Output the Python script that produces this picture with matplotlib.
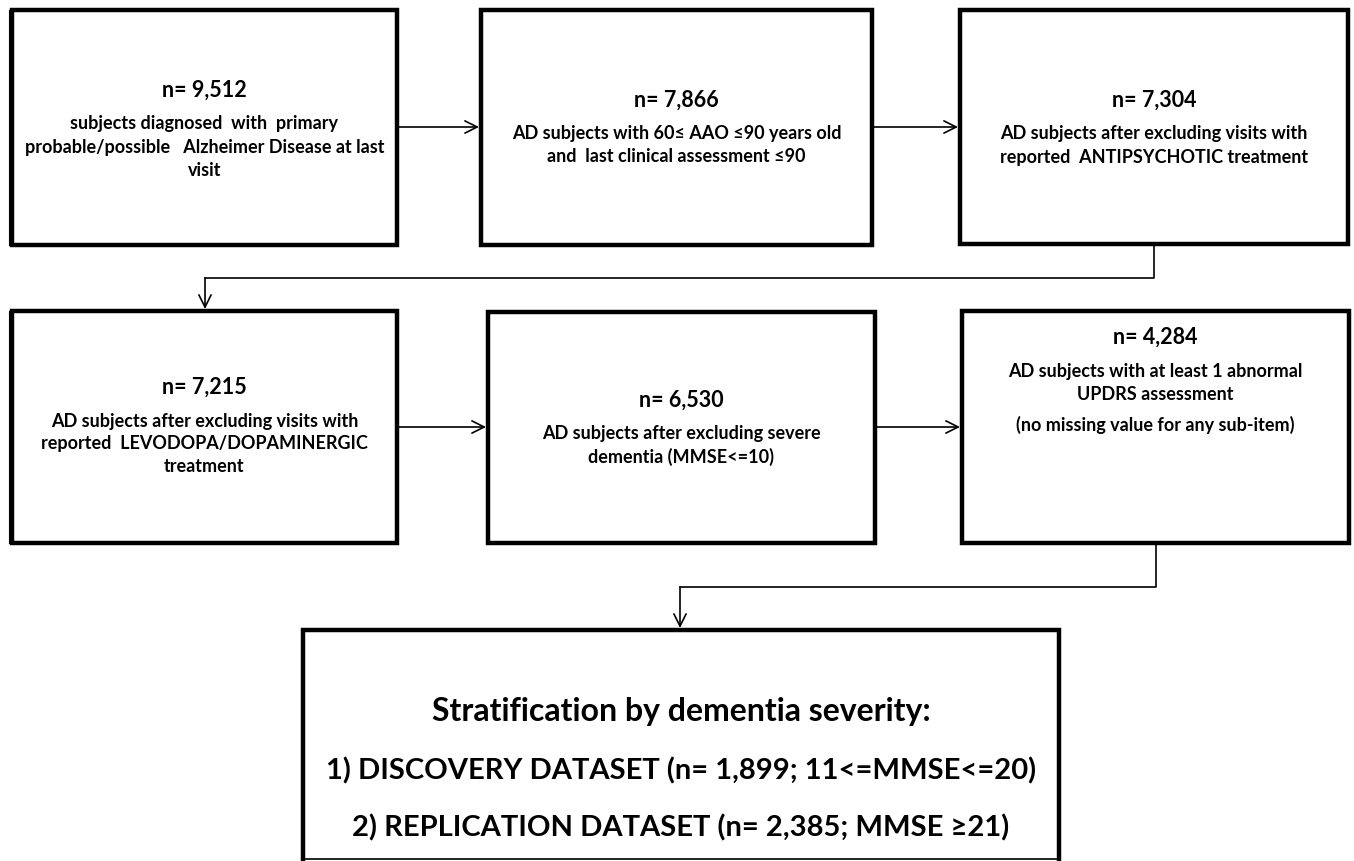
import matplotlib.pyplot as plt
from matplotlib.patches import Rectangle

plt.rcParams['font.family'] = ['Lato', 'DejaVu Sans']

# box rectangles in pixel coords: left, top, right, bottom
boxes = [
    (12, 10, 397, 245),
    (481, 10, 872, 245),
    (960, 10, 1348, 244),
    (12, 311, 397, 543),
    (488, 312, 875, 543),
    (962, 311, 1349, 543),
]
counts = ['n= 9,512', 'n= 7,866', 'n= 7,304', 'n= 7,215', 'n= 6,530', 'n= 4,284']
descs = [
    ['subjects diagnosed  with  primary', 'probable/possible   Alzheimer Disease at last', 'visit'],
    ['AD subjects with 60\u2264 AAO \u226490 years old', 'and  last clinical assessment \u226490'],
    ['AD subjects after excluding visits with', 'reported  ANTIPSYCHOTIC treatment'],
    ['AD subjects after excluding visits with', 'reported  LEVODOPA/DOPAMINERGIC', 'treatment'],
    ['AD subjects after excluding severe', 'dementia (MMSE<=10)'],
    ['AD subjects with at least 1 abnormal', 'UPDRS assessment', '', '(no missing value for any sub-item)'],
]
count_y = [90, 100, 100, 387, 400, 337]

final_box = (303, 630, 1059, 859)
final_lines = ['Stratification by dementia severity:',
               '1) DISCOVERY DATASET (n= 1,899; 11<=MMSE<=20)',
               '2) REPLICATION DATASET (n= 2,385; MMSE \u226521)']
final_y = [711, 771, 828]
final_size = [23, 21, 21]

fig = plt.figure(figsize=(13.54, 8.61), dpi=100)
ax = fig.add_axes([0, 0, 1, 1])
ax.set_xlim(0, 1354)
ax.set_ylim(861, 0)
ax.axis('off')


def draw_box(l, t, r, b, lw=3.2):
    ax.add_patch(Rectangle((l, t), r - l, b - t, fill=False, ec='black',
                           lw=lw, joinstyle='miter'))


for (l, t, r, b), c, d, cy in zip(boxes, counts, descs, count_y):
    draw_box(l, t, r, b)
    cx = (l + r) / 2
    ax.text(cx, cy, c, ha='center', va='center', fontsize=15.5, fontweight='bold')
    y = cy + 34
    for line in d:
        if line == '':
            y += 8
            continue
        ax.text(cx, y, line, ha='center', va='center', fontsize=13, fontweight='bold')
        y += 23

# double thin line on left of first column boxes
for (l, t, r, b) in (boxes[0], boxes[3]):
    ax.plot([l - 3, l - 3], [t, b], color='black', lw=0.8)

# final box
l, t, r, b = final_box
ax.plot([l, l, r, r], [b, t, t, b], color='black', lw=3.2, solid_joinstyle='miter')
ax.plot([l, r], [b, b], color='black', lw=1.2)
for line, y, fs in zip(final_lines, final_y, final_size):
    ax.text((l + r) / 2, y, line, ha='center', va='center', fontsize=fs, fontweight='bold')

arrow = dict(arrowstyle='->', color='black', lw=1.2, mutation_scale=22, shrinkA=0, shrinkB=0)


def harrow(x0, x1, y):
    ax.annotate('', xy=(x1, y), xytext=(x0, y), arrowprops=arrow)


harrow(397, 479, 127)
harrow(872, 958, 127)
harrow(397, 486, 427)
harrow(875, 960, 427)

# elbow connectors
ax.plot([1154, 1154, 205], [244, 278, 278], color='black', lw=1.2)
ax.annotate('', xy=(205, 309), xytext=(205, 278), arrowprops=arrow)
ax.plot([1156, 1156, 680], [543, 587, 587], color='black', lw=1.2)
ax.annotate('', xy=(680, 628), xytext=(680, 587), arrowprops=arrow)

fig.savefig('out.png', dpi=100, facecolor='white')
